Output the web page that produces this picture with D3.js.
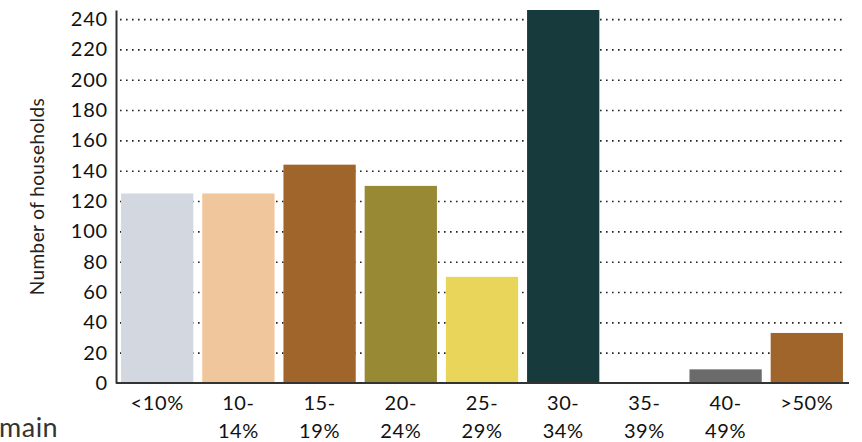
<!DOCTYPE html>
<html>
<head>
<meta charset="utf-8">
<script src="https://cdn.jsdelivr.net/npm/d3@7"></script>
<style>
  html, body { margin: 0; padding: 0; background: #fff; }
  svg { display: block; font-family: Lato, "Open Sans", sans-serif; }
</style>
</head>
<body>
<svg id="chart" width="862" height="442"></svg>
<script>
// Share of income spent on housing, grouped into bands
const categories = ["<10%", "10-14%", "15-19%", "20-24%", "25-29%", "30-34%", "35-39%", "40-49%", ">50%"];
const categoryLines = [["<10%"], ["10-", "14%"], ["15-", "19%"], ["20-", "24%"], ["25-", "29%"], ["30-", "34%"], ["35-", "39%"], ["40-", "49%"], [">50%"]];
const households = [125, 125, 144, 130, 70, 246, 0, 9, 33];
const barColors = ["#d3d7df", "#f0c69c", "#a0652b", "#988934", "#e8d55a", "#173a3c", "#6b6b6b", "#6b6b6b", "#a0652b"];
const yTicks = [0, 20, 40, 60, 80, 100, 120, 140, 160, 180, 200, 220, 240];
const yTitle = "Number of households";
const cornerText = "main";

const svg = d3.select("#chart");
const plot = { left: 116, right: 847, top: 10, bottom: 383 };

const x = d3.scaleBand()
  .domain(categories)
  .range([plot.left + 1, plot.right])
  .paddingInner(0.11)
  .paddingOuter(0.05);

const y = d3.scaleLinear()
  .domain([0, 246])
  .range([plot.bottom, plot.top]);

// dotted gridlines
svg.append("g")
  .selectAll("line")
  .data(yTicks.filter(d => d > 0))
  .join("line")
  .attr("x1", plot.left + 4)
  .attr("x2", plot.right - 2)
  .attr("y1", d => y(d) + 0.5)
  .attr("y2", d => y(d) + 0.5)
  .attr("stroke", "#222")
  .attr("stroke-width", 1.6)
  .attr("stroke-dasharray", "1.6 4.4");

// bars
svg.append("g")
  .selectAll("rect")
  .data(categories)
  .join("rect")
  .attr("x", d => x(d))
  .attr("width", x.bandwidth())
  .attr("y", (d, i) => y(households[i]))
  .attr("height", (d, i) => y(0) - y(households[i]))
  .attr("fill", (d, i) => barColors[i]);

// y axis
const yAxis = svg.append("g")
  .attr("transform", `translate(${plot.left},0)`)
  .call(d3.axisLeft(y).tickValues(yTicks).tickSize(0).tickPadding(8));
yAxis.select(".domain").attr("stroke", "#333").attr("stroke-width", 2);
yAxis.selectAll("text")
  .attr("font-size", 20)
  .attr("fill", "#111")
  .attr("letter-spacing", 0.8)
  .style("font-family", "Lato, sans-serif");

// x axis
const xAxis = svg.append("g")
  .attr("transform", `translate(0,${plot.bottom})`)
  .call(d3.axisBottom(x).tickSize(0).tickFormat(""));
xAxis.select(".domain")
  .attr("d", `M${plot.left},0H${plot.right + 2}`)
  .attr("stroke", "#333").attr("stroke-width", 2);

// two-line category labels
const xLabels = svg.append("g");
categories.forEach((c, i) => {
  const cx = x(c) + x.bandwidth() / 2;
  const t = xLabels.append("text")
    .attr("x", cx)
    .attr("y", plot.bottom + 27)
    .attr("text-anchor", "middle")
    .attr("font-size", 20)
    .attr("letter-spacing", 0.6)
    .attr("fill", "#111");
  categoryLines[i].forEach((ln, j) => {
    t.append("tspan")
      .attr("x", cx)
      .attr("dy", j === 0 ? 0 : 28)
      .text(ln);
  });
});

// y axis title
svg.append("text")
  .attr("transform", `translate(44,${(plot.top + plot.bottom) / 2}) rotate(-90)`)
  .attr("text-anchor", "middle")
  .attr("font-size", 19)
  .attr("letter-spacing", 0.4)
  .attr("fill", "#222")
  .text(yTitle);

// trailing caption at the lower left
svg.append("text")
  .attr("x", -1)
  .attr("y", 437)
  .attr("font-size", 27)
  .attr("letter-spacing", 0.5)
  .attr("fill", "#333")
  .text(cornerText);
</script>
</body>
</html>
